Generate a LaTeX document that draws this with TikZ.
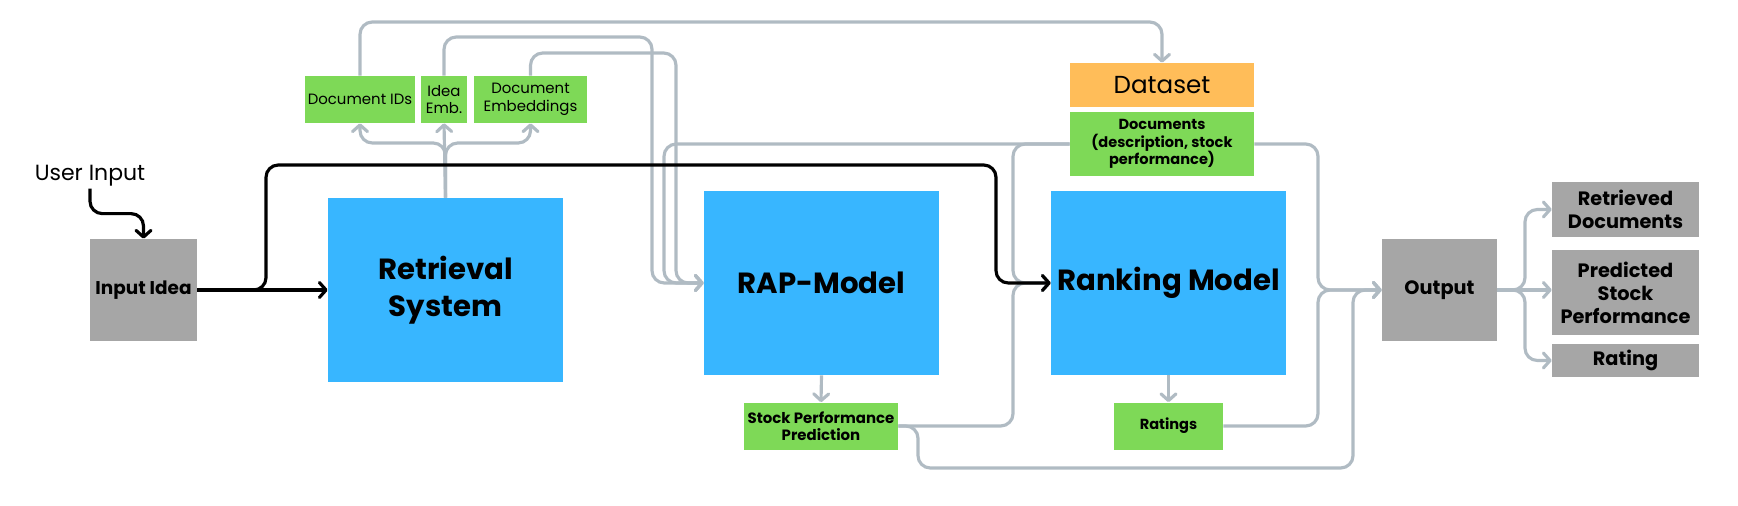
\documentclass[tikz,border=0pt]{standalone}
\usepackage{fontspec}
\setmainfont{Poppins}
\usetikzlibrary{arrows.meta,calc}
\definecolor{boxblue}{HTML}{38B6FF}
\definecolor{boxgreen}{HTML}{7ED957}
\definecolor{boxgrey}{HTML}{A6A6A6}
\definecolor{boxorange}{HTML}{FFBD59}
\definecolor{lineg}{HTML}{B0BBC3}

\begin{document}
\begin{tikzpicture}[x=0.2mm,y=-0.2mm,
  link/.style={line width=1.8pt,draw=lineg,rounded corners=7pt,-{Straight Barb[round,length=3.8pt,width=8.5pt]}},
  mainlink/.style={line width=1.8pt,draw=black,rounded corners=7pt,-{Straight Barb[round,length=3.8pt,width=8.5pt]}},
  greybox/.style={fill=boxgrey,inner sep=1pt,align=center,font=\bfseries\fontsize{11}{13}\selectfont},
  greenbox/.style={fill=boxgreen,inner sep=1pt,align=center,font=\fontsize{8.5}{10}\selectfont},
  bluebox/.style={fill=boxblue,align=center,minimum width=47mm,minimum height=36.8mm,font=\bfseries\fontsize{16.6}{21}\selectfont}]
\useasboundingbox (0,0) rectangle (1738,506);

% Input side
\node[font=\fontsize{12.5}{14}\selectfont,inner sep=1pt] (user) at (90,176) {User Input};
\node[greybox,minimum width=21.4mm,minimum height=20.4mm,font=\bfseries\fontsize{10.5}{12}\selectfont] (idea) at (143.5,290) {Input Idea};
\node[bluebox] (ret) at (445.5,290) {Retrieval\\System};

% Retrieval outputs
\node[greenbox,minimum width=22mm,minimum height=9.4mm] (docids) at (360,99.5) {Document IDs};
\node[greenbox,minimum width=9.2mm,minimum height=9.4mm] (ideaemb) at (444,99.5) {Idea\\Emb.};
\node[greenbox,minimum width=22.6mm,minimum height=9.4mm] (docemb) at (530.5,99.5) {Document\\Embeddings};

% Dataset
\node[fill=boxorange,minimum width=36.8mm,minimum height=8.8mm,font=\fontsize{14}{16}\selectfont] (dataset) at (1162,85) {Dataset};
\node[greenbox,minimum width=36.8mm,minimum height=12.8mm,font=\bfseries\fontsize{8.3}{10}\selectfont] (docs) at (1162,144) {Documents\\(description, stock\\performance)};

% Models
\node[bluebox] (rap) at (821.5,283) {RAP-Model};
\node[bluebox] (rank) at (1168.5,283) {Ranking Model};
\node[greenbox,minimum width=30.8mm,minimum height=9.4mm,font=\bfseries\fontsize{8.5}{10}\selectfont] (spp) at (821,426) {Stock Performance\\Prediction};
\node[greenbox,minimum width=21.8mm,minimum height=9.4mm,font=\bfseries\fontsize{8.3}{10}\selectfont] (ratings) at (1168.5,426) {Ratings};

% Output side
\node[greybox,minimum width=23mm,minimum height=20.4mm] (outp) at (1439.5,290) {Output};
\node[greybox,minimum width=29.4mm,minimum height=11mm] (resdocs) at (1625.5,209.5) {Retrieved\\Documents};
\node[greybox,minimum width=29.4mm,minimum height=17mm] (predstock) at (1625.5,292.5) {Predicted\\Stock\\Performance};
\node[greybox,minimum width=29.4mm,minimum height=6.6mm] (rating) at (1625.5,360.5) {Rating};

% Route points
\coordinate (lnA) at (700,22);
\coordinate (lnB) at (652,37);
\coordinate (lnC) at (676,53);
\coordinate (lnD) at (664,283);
\coordinate (lnE) at (1013,283);
\coordinate (lnF) at (918,468);
\coordinate (lnG) at (1353,290);
\coordinate (lnH) at (1318,290);
\coordinate (fork) at (1525,290);
\coordinate (splitL) at (400,143);
\coordinate (splitR) at (490,143);
\coordinate (topL) at (266,165);
\coordinate (topR) at (996,165);

% Grey data flow
\draw[link] (ret.north) -- (ideaemb.south);
\draw[link] (ret.north) |- (splitL) -| (docids.south);
\draw[link] (ret.north) |- (splitR) -| (docemb.south);
\draw[link] (docids.north) |- (lnA) -| (dataset.north);
\draw[link] (ideaemb.north) |- (lnB) |- (rap.west);
\draw[link] (docemb.north) |- (lnC) |- (rap.west);
\draw[link] (docs.west) -| (lnD) -- (rap.west);
\draw[link] (docs.west) -| (lnE) -- (rank.west);
\draw[link] (rap.south) -- (spp.north);
\draw[link] (rank.south) -- (ratings.north);
\draw[link] (spp.east) -| (lnE) -- (rank.west);
\draw[link] (spp.east) -| (lnF) -| (lnG) -- (outp.west);
\draw[link] (ratings.east) -| (lnH) -- (outp.west);
\draw[link] (docs.east) -| (lnH) -- (outp.west);
\draw[link] (outp.east) -- (predstock.west |- outp.east);
\draw[link] (outp.east) -- (fork) |- (resdocs.west);
\draw[link] (outp.east) -- (fork) |- (rating.west);

% User input path
\draw[mainlink] (user.south) |- ($(user.south)!0.5!(idea.north)$) -| (idea.north);
\draw[mainlink] (idea.east) -- (ret.west);
\draw[mainlink] (idea.east) -| (topL) -- (topR) |- (rank.west);
\end{tikzpicture}
\end{document}
